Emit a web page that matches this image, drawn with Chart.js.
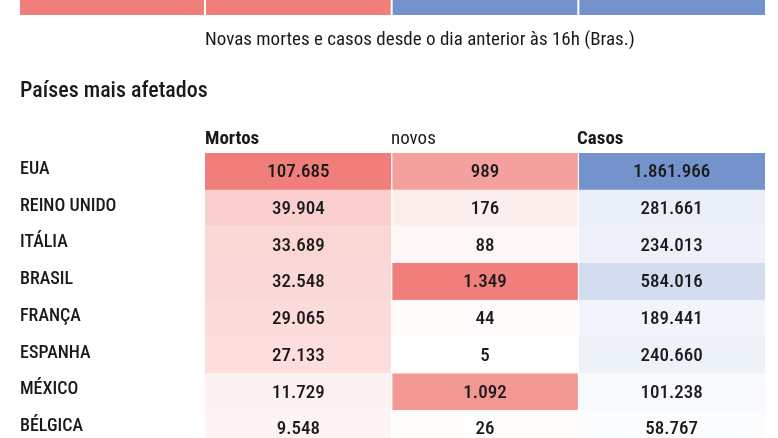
<!DOCTYPE html>
<html><head><meta charset="utf-8">
<script src="https://cdn.jsdelivr.net/npm/chart.js@4"></script>
<style>html,body{margin:0;padding:0;background:#fff;overflow:hidden;width:778px;height:438px}</style>
</head><body>
<canvas id="c" width="778" height="447"></canvas>
<script>
const countries = ["EUA","REINO UNIDO","ITÁLIA","BRASIL","FRANÇA","ESPANHA","MÉXICO","BÉLGICA"];
const deaths = [107685,39904,33689,32548,29065,27133,11729,9548];
const newDeaths = [989,176,88,1349,44,5,1092,26];
const cases = [1861966,281661,234013,584016,189441,240660,101238,58767];
const columnHeaders = ["Mortos","novos","Casos"];
const title = "Países mais afetados";
const subtitle = "Novas mortes e casos desde o dia anterior às 16h (Bras.)";

const RED=[240,126,122], BLUE=[116,146,204];
function shade(base,v,max){const t=v/max;return `rgb(${base.map(c=>Math.round(255+(c-255)*t)).join(",")})`;}
function fmt(n){return n.toString().replace(/\B(?=(\d{3})+(?!\d))/g,".");}
const cols=[{vals:deaths,base:RED},{vals:newDeaths,base:RED},{vals:cases,base:BLUE}];
const datasets=cols.map((c,i)=>{const mx=Math.max(...c.vals);return{
  data:c.vals.map(()=>[i,i+1]),
  backgroundColor:c.vals.map(v=>shade(c.base,v,mx)),
  borderColor:c.vals.map(v=>shade(c.base,v,mx)),
  raw:c.vals,borderWidth:{top:1,bottom:1,left:0,right:0},barPercentage:1,categoryPercentage:1,grouped:false};});
const F="'Roboto Condensed','Liberation Sans Narrow','Liberation Sans',sans-serif";
const deco={id:'deco',afterDatasetsDraw(ch){
  const ctx=ch.ctx,x=ch.scales.x,y=ch.scales.y;
  ctx.fillStyle='#fff';
  [1,2].forEach(v=>{ctx.fillRect(x.getPixelForValue(v)-0.5,0,1.2,ch.height);});
  ctx.fillStyle='rgb(240,126,122)';ctx.fillRect(20,0,184,15);ctx.fillRect(x.getPixelForValue(0)+1,0,x.getPixelForValue(1)-x.getPixelForValue(0)-2,15);
  ctx.fillStyle='rgb(116,146,204)';ctx.fillRect(x.getPixelForValue(1)+1,0,x.getPixelForValue(2)-x.getPixelForValue(1)-2,15);ctx.fillRect(x.getPixelForValue(2)+1,0,x.getPixelForValue(3)-x.getPixelForValue(2)-1,15);
  ctx.fillStyle='#1a1a1a';ctx.textBaseline='middle';
  ctx.font=`19px ${F}`;ctx.textAlign='left';ctx.fillText(subtitle,205,40);
  ctx.font=`500 22px ${F}`;ctx.fillText(title,20,91);
  ctx.font=`bold 19px ${F}`;ctx.fillText(columnHeaders[0],205,139);
  ctx.font=`19px ${F}`;ctx.fillText(columnHeaders[1],391,139);
  ctx.font=`bold 19px ${F}`;ctx.fillText(columnHeaders[2],577,139);
  ch.data.datasets.forEach((ds,i)=>{ds.raw.forEach((v,j)=>{
    ctx.font=`500 19px ${F}`;ctx.textAlign='center';
    ctx.fillText(fmt(v),x.getPixelForValue(i+0.5),y.getPixelForValue(j)+1);});});
  ctx.textAlign='left';ctx.font=`500 18px ${F}`;
  countries.forEach((c,j)=>ctx.fillText(c,20,y.getPixelForValue(j)-2));
}};
new Chart(document.getElementById('c'),{type:'bar',
  data:{labels:countries,datasets},
  options:{indexAxis:'y',responsive:false,animation:false,
    layout:{padding:{left:205,right:13,top:153,bottom:0}},
    plugins:{legend:{display:false},tooltip:{enabled:false}},
    scales:{x:{type:'linear',min:0,max:3,display:false},y:{display:false}}},
  plugins:[deco]});
</script></body></html>
